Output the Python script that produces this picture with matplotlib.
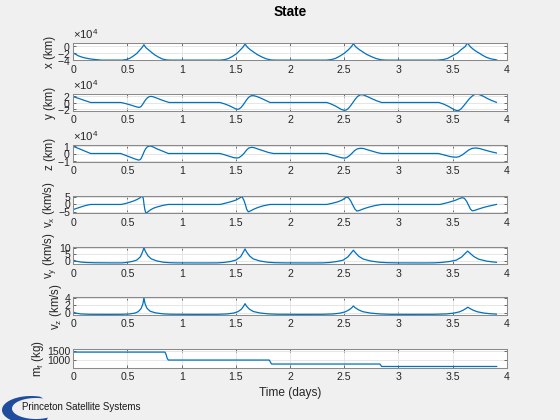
import numpy as np
import matplotlib
matplotlib.use("Agg")
import matplotlib.pyplot as plt
from matplotlib.ticker import ScalarFormatter, FixedLocator
from matplotlib.patches import Polygon

# ---------------- data ----------------
# time in days; positions in units of 1e4 km (scaled to km when plotted)
t_x = [0.00, 0.046, 0.092, 0.154, 0.215, 0.26,
       0.45, 0.49, 0.52, 0.55, 0.585, 0.615, 0.635, 0.652, 0.67, 0.695, 0.72, 0.75, 0.785, 0.82, 0.86, 0.90,
       1.355, 1.40, 1.435, 1.47, 1.51, 1.543, 1.566, 1.585, 1.606, 1.634, 1.663, 1.698, 1.738, 1.778, 1.825, 1.87,
       2.335, 2.382, 2.42, 2.457, 2.50, 2.539, 2.564, 2.585, 2.608, 2.639, 2.67, 2.708, 2.752, 2.795, 2.845, 2.895,
       3.36, 3.413, 3.455, 3.505, 3.546, 3.58, 3.616, 3.638, 3.665, 3.695, 3.72, 3.75, 3.78, 3.81, 3.85, 3.908]
x_1e4km = [-1.88, -2.7, -3.2, -3.6, -3.82, -3.95,
           -3.95, -3.8, -3.45, -2.85, -2.05, -1.0, -0.3, 0.5, -0.35, -1.0, -1.65, -2.4, -3.05, -3.6, -3.9, -3.95,
           -3.95, -3.8, -3.45, -2.85, -2.0, -0.95, -0.2, 0.7, -0.2, -0.95, -1.6, -2.35, -3.0, -3.55, -3.9, -3.95,
           -3.95, -3.8, -3.45, -2.85, -2.0, -0.95, -0.15, 0.8, -0.15, -0.9, -1.55, -2.3, -2.95, -3.5, -3.88, -3.95,
           -3.95, -3.8, -3.45, -2.6, -1.9, -0.9, -0.05, 1.0, -0.1, -0.9, -1.45, -2.0, -2.6, -3.1, -3.55, -3.9]

t_y = [0.0, 0.05, 0.10, 0.16,
       0.44, 0.48, 0.523, 0.56, 0.585, 0.608, 0.625, 0.64, 0.655, 0.67, 0.685, 0.70, 0.715, 0.735, 0.77, 0.81, 0.85, 0.885,
       1.354, 1.40, 1.44, 1.475, 1.50, 1.515, 1.53, 1.55, 1.57, 1.585, 1.60, 1.615, 1.63, 1.645, 1.665, 1.69, 1.73, 1.77, 1.80, 1.815,
       2.34, 2.38, 2.42, 2.45, 2.475, 2.50, 2.52, 2.54, 2.565, 2.585, 2.605, 2.625, 2.645, 2.66, 2.68, 2.72, 2.76, 2.80, 2.845,
       3.375, 3.42, 3.46, 3.49, 3.515, 3.54, 3.56, 3.58, 3.605, 3.63, 3.655, 3.68, 3.70, 3.722, 3.745, 3.78, 3.82, 3.86, 3.905]
y_1e4km = [1.7, 1.2, 0.65, 0.0,
           0.0, -0.3, -0.67, -1.05, -1.3, -1.45, -1.2, -0.55, 0.2, 0.9, 1.4, 1.7, 1.8, 1.7, 1.3, 0.8, 0.35, 0.0,
           0.0, -0.45, -0.95, -1.5, -1.9, -2.0, -1.9, -1.4, -0.6, 0.1, 0.8, 1.4, 1.8, 2.0, 2.0, 1.8, 1.3, 0.7, 0.25, 0.0,
           0.0, -0.45, -1.05, -1.6, -2.05, -2.3, -2.2, -1.7, -0.7, 0.2, 1.1, 1.8, 2.2, 2.3, 2.2, 1.65, 1.05, 0.5, 0.0,
           0.0, -0.5, -1.1, -1.65, -2.1, -2.4, -2.3, -1.85, -0.9, 0.1, 1.1, 1.85, 2.3, 2.45, 2.35, 1.9, 1.2, 0.6, 0.05]

t_z = [0.0, 0.05, 0.10, 0.16,
       0.437, 0.48, 0.523, 0.56, 0.59, 0.607, 0.622, 0.637, 0.652, 0.667, 0.682, 0.70, 0.715, 0.74, 0.78, 0.83, 0.877,
       1.354, 1.40, 1.445, 1.48, 1.51, 1.53, 1.555, 1.58, 1.60, 1.62, 1.646, 1.67, 1.71, 1.76, 1.80, 1.846,
       2.34, 2.39, 2.44, 2.475, 2.50, 2.52, 2.545, 2.57, 2.595, 2.62, 2.65, 2.68, 2.72, 2.77, 2.81, 2.846,
       3.37, 3.42, 3.47, 3.505, 3.535, 3.56, 3.59, 3.62, 3.65, 3.68, 3.715, 3.75, 3.80, 3.85, 3.905]
z_1e4km = [1.0, 0.7, 0.38, 0.0,
           0.0, -0.25, -0.5, -0.72, -0.88, -0.93, -0.8, -0.35, 0.2, 0.65, 0.92, 1.05, 1.05, 0.9, 0.6, 0.3, 0.0,
           0.0, -0.2, -0.42, -0.58, -0.64, -0.58, -0.3, 0.1, 0.5, 0.78, 0.87, 0.82, 0.6, 0.35, 0.15, 0.0,
           0.0, -0.22, -0.45, -0.6, -0.65, -0.6, -0.35, 0.0, 0.4, 0.65, 0.74, 0.7, 0.5, 0.28, 0.1, 0.0,
           0.0, -0.2, -0.4, -0.5, -0.52, -0.45, -0.2, 0.15, 0.5, 0.72, 0.78, 0.7, 0.48, 0.27, 0.07]

t_vx = [0.0, 0.04, 0.08, 0.12, 0.16,
        0.44, 0.48, 0.52, 0.56, 0.59, 0.615, 0.635, 0.645, 0.652, 0.66, 0.668, 0.675, 0.69, 0.71, 0.74, 0.78, 0.83, 0.877,
        1.354, 1.40, 1.45, 1.50, 1.53, 1.552, 1.56, 1.575, 1.59, 1.60, 1.615, 1.63, 1.66, 1.70, 1.75, 1.815,
        2.34, 2.39, 2.44, 2.48, 2.505, 2.522, 2.54, 2.56, 2.58, 2.60, 2.618, 2.64, 2.68, 2.73, 2.79, 2.846,
        3.385, 3.43, 3.48, 3.53, 3.56, 3.59, 3.61, 3.63, 3.65, 3.665, 3.682, 3.70, 3.74, 3.79, 3.85, 3.905]
vx_kms = [-3.5, -2.5, -1.5, -0.6, 0.0,
          0.0, 0.6, 1.5, 2.5, 3.5, 4.6, 5.9, 4.5, 0.5, -3.5, -5.6, -5.9, -5.0, -3.9, -2.6, -1.6, -0.6, 0.0,
          0.0, 0.8, 1.8, 3.0, 4.2, 5.3, 5.0, 2.8, -0.5, -3.3, -5.1, -4.7, -3.5, -2.2, -1.0, 0.0,
          0.0, 0.8, 1.8, 3.0, 4.3, 5.1, 4.6, 2.5, -0.5, -3.3, -4.6, -4.2, -3.0, -1.8, -0.7, 0.0,
          0.0, 0.8, 1.8, 3.0, 4.0, 4.7, 4.2, 2.2, -0.8, -3.2, -4.4, -4.2, -3.2, -2.0, -0.9, 0.0]

t_vy = [0.0, 0.03, 0.07, 0.12, 0.2, 0.35,
        0.45, 0.49, 0.54, 0.585, 0.62, 0.64, 0.652, 0.665, 0.69, 0.72, 0.77, 0.83, 0.89, 0.95, 1.2,
        1.33, 1.39, 1.45, 1.50, 1.545, 1.568, 1.585, 1.60, 1.628, 1.66, 1.72, 1.79, 1.86, 1.95, 2.2,
        2.30, 2.37, 2.43, 2.49, 2.535, 2.565, 2.585, 2.605, 2.635, 2.675, 2.74, 2.82, 2.9, 3.0, 3.2,
        3.32, 3.40, 3.47, 3.535, 3.585, 3.617, 3.64, 3.663, 3.697, 3.74, 3.81, 3.87, 3.905]
vy_kms = [0.3, -0.6, -1.2, -1.55, -1.75, -1.85,
          -1.85, -1.5, -0.8, 0.3, 3.0, 7.0, 10.0, 7.2, 3.6, 1.3, -0.3, -1.3, -1.7, -1.85, -1.9,
          -1.85, -1.5, -0.8, 0.3, 3.0, 6.5, 9.1, 6.7, 3.5, 1.3, -0.3, -1.3, -1.7, -1.85, -1.9,
          -1.85, -1.5, -0.8, 0.3, 2.9, 6.0, 8.1, 6.0, 3.3, 1.2, -0.3, -1.3, -1.7, -1.85, -1.9,
          -1.85, -1.5, -0.8, 0.3, 2.8, 5.6, 7.4, 5.6, 3.1, 1.1, -0.4, -1.1, -1.4]

t_vz = [0.0, 0.03, 0.07, 0.15, 0.3,
        0.45, 0.52, 0.57, 0.60, 0.625, 0.642, 0.652, 0.662, 0.68, 0.71, 0.76, 0.83, 0.9, 1.1,
        1.33, 1.42, 1.48, 1.52, 1.55, 1.57, 1.585, 1.60, 1.625, 1.66, 1.72, 1.80, 1.88, 2.1,
        2.30, 2.40, 2.46, 2.51, 2.545, 2.57, 2.585, 2.60, 2.63, 2.67, 2.74, 2.83, 2.92, 3.1,
        3.33, 3.44, 3.51, 3.565, 3.60, 3.625, 3.64, 3.66, 3.69, 3.73, 3.79, 3.85, 3.905]
vz_kms = [0.1, -0.2, -0.4, -0.5, -0.52,
          -0.5, -0.4, -0.15, 0.25, 1.1, 2.4, 4.15, 2.5, 1.2, 0.35, -0.1, -0.38, -0.48, -0.52,
          -0.5, -0.4, -0.15, 0.25, 0.9, 1.7, 2.5, 1.75, 0.95, 0.3, -0.12, -0.38, -0.48, -0.52,
          -0.5, -0.4, -0.18, 0.2, 0.75, 1.35, 1.85, 1.4, 0.8, 0.25, -0.15, -0.4, -0.5, -0.52,
          -0.5, -0.4, -0.18, 0.2, 0.7, 1.15, 1.5, 1.15, 0.65, 0.2, -0.15, -0.35, -0.45]

t_mf = [0.0, 0.846, 0.856, 0.866, 0.877, 1.809, 1.82, 1.83, 2.83, 2.846, 3.908]
mf_kg = [1420, 1420, 1300, 1100, 1000, 1000, 880, 790, 790, 660, 660]

x_ticks = [0, 0.5, 1, 1.5, 2, 2.5, 3, 3.5, 4]
x_ticklabels = ["0", "0.5", "1", "1.5", "2", "2.5", "3", "3.5", "4"]
y_labels = ["x (km)", "y (km)", "z (km)",
            r"v$_\mathregular{x}$ (km/s)", r"v$_\mathregular{y}$ (km/s)",
            r"v$_\mathregular{z}$ (km/s)", r"m$_\mathregular{f}$ (kg)"]
y_ticks = [[-4e4, -2e4, 0], [-2e4, 0, 2e4], [-1e4, 0, 1e4],
           [-5, 0, 5], [0, 5, 10], [0, 2, 4], [1000, 1500]]
y_lims = [(-4.0e4, 1.0e4), (-2.5e4, 2.5e4), (-1.2e4, 1.2e4),
          (-6, 6), (-2.8, 11), (-0.7, 4.3), (580, 1610)]
KM_PER_UNIT = 1e4

series = [(t_x, np.array(x_1e4km) * KM_PER_UNIT),
          (t_y, np.array(y_1e4km) * KM_PER_UNIT),
          (t_z, np.array(z_1e4km) * KM_PER_UNIT),
          (t_vx, vx_kms), (t_vy, vy_kms), (t_vz, vz_kms), (t_mf, mf_kg)]

# ---------------- style ----------------
plt.rcParams["font.family"] = ["Liberation Sans", "DejaVu Sans"]
plt.rcParams["mathtext.fontset"] = "custom"
plt.rcParams["mathtext.rm"] = "Liberation Sans"
plt.rcParams["mathtext.it"] = "Liberation Sans:italic"

W, H = 560, 420
fig = plt.figure(figsize=(W / 100, H / 100), dpi=100, facecolor="#f0f0f0")

LINE = "#0072BD"
TXT = "#262626"
EDGE = "#8a8a8a"
TICKFS = 7.6
LABFS = 8.3

tops = [43.0, 94.0, 145.0, 195.8, 246.5, 297.3, 348.5]
heights = [17.3, 17.0, 17.0, 17.3, 17.6, 17.7, 19.5]
left_px, right_px = 73.3, 506.7

for i, (t, v) in enumerate(series):
    ax = fig.add_axes([left_px / W, 1 - (tops[i] + heights[i]) / H,
                       (right_px - left_px) / W, heights[i] / H])
    ax.set_facecolor("white")
    ax.plot(t, v, color=LINE, lw=0.9)
    ax.set_xlim(0, 4)
    ax.set_ylim(*y_lims[i])
    ax.xaxis.set_major_locator(FixedLocator(x_ticks))
    ax.set_xticklabels(x_ticklabels)
    ax.yaxis.set_major_locator(FixedLocator(y_ticks[i]))
    if i < 3:
        fmt = ScalarFormatter(useMathText=True)
        fmt.set_powerlimits((0, 0))
        ax.yaxis.set_major_formatter(fmt)
        ot = ax.yaxis.get_offset_text()
        ot.set_fontsize(TICKFS + 0.6)
        ot.set_color("#555555")
    ax.grid(True, color="#e2e2e2", lw=0.6)
    ax.set_axisbelow(True)
    for s in ax.spines.values():
        s.set_color(EDGE)
        s.set_linewidth(0.75)
    ax.tick_params(axis="both", direction="in", length=2.5, width=0.6,
                   color="#555555", labelcolor=TXT, labelsize=TICKFS,
                   top=True, right=True)
    ax.tick_params(axis="x", pad=3.2)
    ax.tick_params(axis="y", pad=2.0)
    ax.set_ylabel(y_labels[i], fontsize=LABFS, color=TXT, labelpad=0.8)

fig.text(290 / W, 1 - 12 / H, "State", ha="center", va="center",
         fontsize=9.8, fontweight="bold", color="black")
fig.text(290 / W, 1 - 393 / H, "Time (days)", ha="center", va="center",
         fontsize=LABFS + 0.3, color=TXT)

# logo
lax = fig.add_axes([0, 0, 1, 1], zorder=-1)
lax.set_xlim(0, W)
lax.set_ylim(H, 0)
lax.axis("off")
th_o = np.radians(np.linspace(72, 300, 60))
th_i = np.radians(np.linspace(300, 72, 60))
outer = np.column_stack([31 + 29 * np.cos(th_o), 410 - 14 * np.sin(th_o)])
inner = np.column_stack([36 + 24 * np.cos(th_i), 408.5 - 10.5 * np.sin(th_i)])
lax.add_patch(Polygon(np.vstack([outer, inner]), closed=True,
                      facecolor="#1f4c9c", edgecolor="none"))
fig.text(22 / W, 1 - 407 / H, "Princeton Satellite Systems", ha="left",
         va="center", fontsize=7.0, color="#1a1a1a")

fig.savefig("out.png", dpi=100, facecolor=fig.get_facecolor())
